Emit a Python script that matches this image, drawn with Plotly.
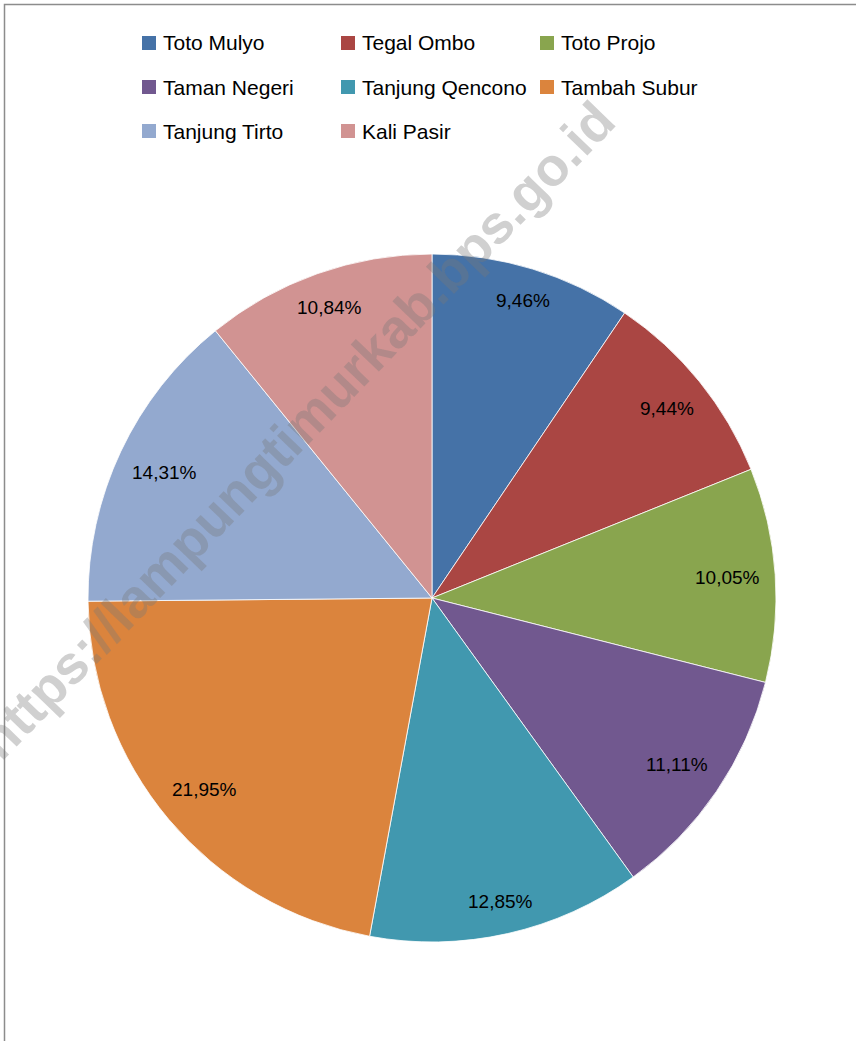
import math
import plotly.graph_objects as go

# ---- data ----
categories = ["Toto Mulyo", "Tegal Ombo", "Toto Projo", "Taman Negeri",
              "Tanjung Qencono", "Tambah Subur", "Tanjung Tirto", "Kali Pasir"]
values = [9.46, 9.44, 10.05, 11.11, 12.85, 21.95, 14.31, 10.84]
colors = ["#4572A7", "#AA4643", "#89A54E", "#71588F",
          "#4198AF", "#DB843D", "#93A9CF", "#D19392"]
watermark = "https://lampungtimurkab.bps.go.id"

# ---- layout geometry (pixels) ----
W, H = 856, 1041
cx, cy, r = 432, 598, 344
label_font = 19
legend_font = 21

def fmt(v):
    return f"{v:.2f}".replace(".", ",") + "%"

labels_txt = [fmt(v) for v in values]

fig = go.Figure()
fig.add_trace(go.Pie(
    labels=categories, values=values, sort=False, direction="clockwise",
    rotation=0, marker=dict(colors=colors, line=dict(color="rgba(255,255,255,0.8)", width=1)),
    textinfo="none", hoverinfo="skip", showlegend=False,
    domain=dict(x=[(cx - r) / W, (cx + r) / W], y=[1 - (cy + r) / H, 1 - (cy - r) / H]),
))

annotations = []
shapes = []

# data labels: placed inside-end along each slice's mid angle
char_w = {"0": .556, "1": .556, "2": .556, "3": .556, "4": .556, "5": .556,
          "6": .556, "7": .556, "8": .556, "9": .556, ",": .278, "%": .889}
total = sum(values)
cum = 0.0
D = r - 15
for v, t in zip(values, labels_txt):
    mid = (cum + v / 2) / total * 2 * math.pi
    cum += v
    ux, uy = math.sin(mid), -math.cos(mid)
    hw = sum(char_w.get(ch, .556) for ch in t) * label_font / 2
    hh = 10
    sx = hw if ux >= 0 else -hw
    sy = hh if uy >= 0 else -hh
    us = ux * sx + uy * sy
    dist = -us + math.sqrt(us * us - (sx * sx + sy * sy) + D * D)
    px, py = cx + dist * ux, cy + dist * uy
    annotations.append(dict(x=px / W, y=1 - py / H, xref="paper", yref="paper",
                            text=t, showarrow=False, xanchor="center", yanchor="middle",
                            font=dict(family="Liberation Sans, Arial, sans-serif",
                                      size=label_font, color="#000000")))

# legend (3 columns)
col_x = [142, 341, 540]
row_y = [43, 87, 131]
for i, (name, col) in enumerate(zip(categories, colors)):
    x0 = col_x[i % 3]
    y0 = row_y[i // 3]
    shapes.append(dict(type="rect", xref="paper", yref="paper",
                       x0=x0 / W, x1=(x0 + 14) / W,
                       y0=1 - (y0 + 7) / H, y1=1 - (y0 - 7) / H,
                       fillcolor=col, line=dict(width=0)))
    annotations.append(dict(x=(x0 + 19) / W, y=1 - y0 / H, xref="paper", yref="paper",
                            text=name, showarrow=False, xanchor="left", yanchor="middle",
                            font=dict(family="Liberation Sans, Arial, sans-serif",
                                      size=legend_font, color="#000000")))

# watermark
annotations.append(dict(x=296 / W, y=1 - 430 / H, xref="paper", yref="paper",
                        text=watermark, showarrow=False, textangle=-46,
                        xanchor="center", yanchor="middle",
                        font=dict(family="Liberation Sans, Arial, sans-serif", size=54,
                                  color="rgba(120,120,120,0.35)", weight=700)))

# outer border (top and left visible)
shapes.append(dict(type="rect", xref="paper", yref="paper",
                   x0=4.5 / W, x1=1.05, y0=-0.05, y1=1 - 4.5 / H,
                   line=dict(color="#8c8c8c", width=1.5), fillcolor="rgba(0,0,0,0)"))

fig.update_layout(width=W, height=H, margin=dict(l=0, r=0, t=0, b=0),
                  paper_bgcolor="white", plot_bgcolor="white",
                  annotations=annotations, shapes=shapes)

fig.write_html("out.html", config={"displayModeBar": False},
               post_script="document.body.style.margin='0';document.body.style.padding='0';document.body.style.overflow='hidden';")
